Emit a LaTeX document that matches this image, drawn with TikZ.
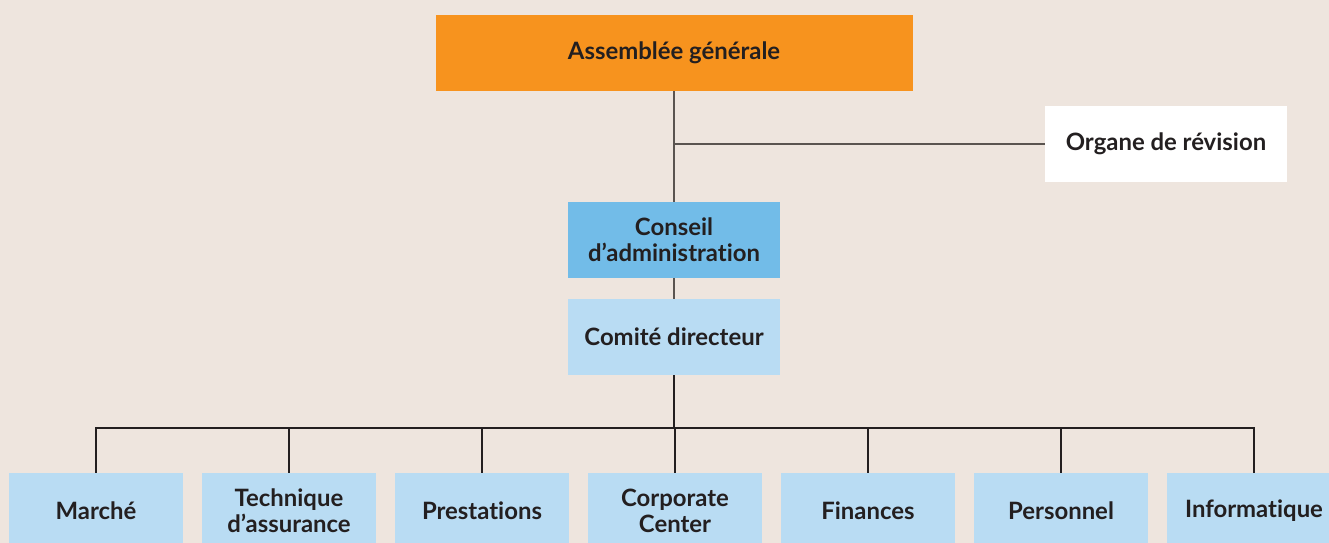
\documentclass[tikz,border=0pt]{standalone}
\usepackage{fontspec}
\setmainfont{Lato}[RawFeature={-liga}]
\usepackage{xcolor}
\definecolor{bgbeige}{RGB}{238,229,222}
\definecolor{agorange}{RGB}{247,147,30}
\definecolor{cablue}{RGB}{114,188,232}
\definecolor{lightblue}{RGB}{185,220,243}
\definecolor{inkdark}{RGB}{35,31,32}
\definecolor{linegray}{RGB}{90,84,80}
\tikzset{
  orgbox/.style={rectangle,minimum height=1.9cm,inner sep=2pt,align=center,
    text=inkdark,font=\fontsize{17}{18.5}\selectfont\bfseries},
  unitbox/.style={orgbox,fill=lightblue,minimum width=4.35cm},
  link/.style={draw=linegray,line width=1pt}
}

\begin{document}
\begin{tikzpicture}
  % Background
  \clip (0,0) rectangle (33.225,-13.575);
  \fill[bgbeige] (0,0) rectangle (33.225,-13.575);
  % Boxes
  \node[orgbox,fill=agorange,minimum width=11.925cm] (ag) at (16.85,-1.325) {Assemblée générale};
  \node[orgbox,fill=white,minimum width=6.05cm] (or) at (29.15,-3.6) {Organe de révision};
  \node[orgbox,fill=cablue,minimum width=5.3cm] (ca) at (16.85,-6.0) {Conseil\\d’administration};
  \node[orgbox,fill=lightblue,minimum width=5.3cm] (cdir) at (16.85,-8.425) {Comité directeur};
  \coordinate (bus) at (16.85,-10.7);
  \foreach \name/\txt [count=\i from 0] in {mkt/Marché,tech/Technique\\d’assurance,prest/Prestations,corp/Corporate\\Center,fin/Finances,pers/Personnel,info/Informatique}
    \node[unitbox] (\name) at ({2.4+4.825*\i},-12.775) {\txt};
  % Lines
  \draw[link] (ag) -- (ca);
  \draw[link] (ag.south |- or.west) -- (or.west);
  \draw[link] (ca) -- (cdir);
  \draw[link,draw=inkdark] (cdir.south) -- (bus);
  \foreach \name in {mkt,tech,prest,corp,fin,pers,info}
    \draw[link,draw=inkdark] (\name.north) -- (\name.north |- bus) -- (bus);
\end{tikzpicture}
\end{document}
